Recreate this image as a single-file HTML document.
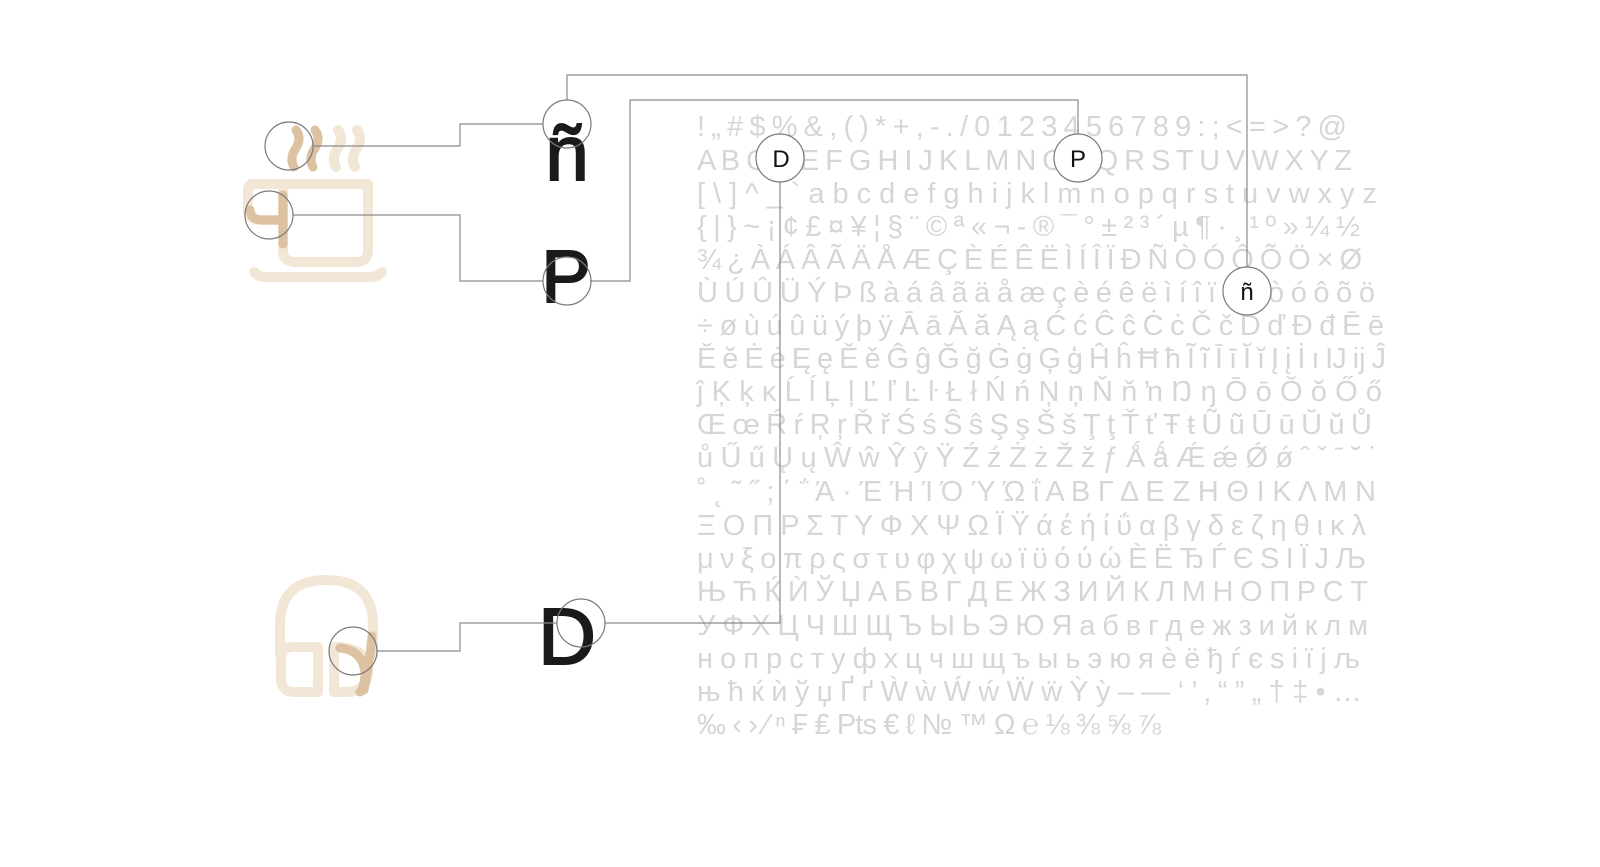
<!DOCTYPE html>
<html><head><meta charset="utf-8"><style>
html,body{margin:0;padding:0;background:#fff;width:1600px;height:867px;overflow:hidden}
svg{display:block}
</style></head><body>
<svg width="1600" height="867" viewBox="0 0 1600 867" xmlns="http://www.w3.org/2000/svg">
<g font-family="Liberation Sans, DejaVu Sans, sans-serif" font-size="29" fill="#d6d6d6">
<text x="697" y="136" textLength="650" lengthAdjust="spacing">! „ # $ % &amp; , ( ) * + , - . / 0 1 2 3 4 5 6 7 8 9 : ; &lt; = &gt; ? @</text>
<text x="697" y="170" textLength="655" lengthAdjust="spacing">A B C D E F G H I J K L M N O P Q R S T U V W X Y Z</text>
<text x="697" y="203" textLength="680" lengthAdjust="spacing">[ \ ] ^ _ ` a b c d e f g h i j k l m n o p q r s t u v w x y z</text>
<text x="697" y="236" textLength="663" lengthAdjust="spacing">{ | } ~ ¡ ¢ £ ¤ ¥ ¦ § ¨ © ª « ¬ - ® ¯ ° ± ² ³ ´ µ ¶ · ¸ ¹ º » ¼ ½</text>
<text x="697" y="269" textLength="665" lengthAdjust="spacing">¾ ¿ À Á Â Ã Ä Å Æ Ç È É Ê Ë Ì Í Î Ï Ð Ñ Ò Ó Ô Õ Ö × Ø</text>
<text x="697" y="302" textLength="678" lengthAdjust="spacing">Ù Ú Û Ü Ý Þ ß à á â ã ä å æ ç è é ê ë ì í î ï ð ñ ò ó ô õ ö</text>
<text x="697" y="335" textLength="687" lengthAdjust="spacing">÷ ø ù ú û ü ý þ ÿ Ā ā Ă ă Ą ą Ć ć Ĉ ĉ Ċ ċ Č č Ď ď Đ đ Ē ē</text>
<text x="697" y="368" textLength="689" lengthAdjust="spacing">Ĕ ĕ Ė ė Ę ę Ě ě Ĝ ĝ Ğ ğ Ġ ġ Ģ ģ Ĥ ĥ Ħ ħ Ĩ ĩ Ī ī Ĭ ĭ Į į İ ı Ĳ ĳ Ĵ</text>
<text x="697" y="401" textLength="685" lengthAdjust="spacing">ĵ Ķ ķ ĸ Ĺ ĺ Ļ ļ Ľ ľ Ŀ ŀ Ł ł Ń ń Ņ ņ Ň ň ŉ Ŋ ŋ Ō ō Ŏ ŏ Ő ő</text>
<text x="697" y="434" textLength="675" lengthAdjust="spacing">Œ œ Ŕ ŕ Ŗ ŗ Ř ř Ś ś Ŝ ŝ Ş ş Š š Ţ ţ Ť ť Ŧ ŧ Ũ ũ Ū ū Ŭ ŭ Ů</text>
<text x="697" y="467" textLength="681" lengthAdjust="spacing">ů Ű ű Ų ų Ŵ ŵ Ŷ ŷ Ÿ Ź ź Ż ż Ž ž ƒ Ǻ ǻ Ǽ ǽ Ǿ ǿ ˆ ˇ ˉ ˘ ˙</text>
<text x="697" y="501" textLength="679" lengthAdjust="spacing">˚ ˛ ˜ ˝ ; ΄ ΅ Ά · Έ Ή Ί Ό Ύ Ώ ΐ Α Β Γ Δ Ε Ζ Η Θ Ι Κ Λ Μ Ν</text>
<text x="697" y="535" textLength="669" lengthAdjust="spacing">Ξ Ο Π Ρ Σ Τ Υ Φ Χ Ψ Ω Ϊ Ϋ ά έ ή ί ΰ α β γ δ ε ζ η θ ι κ λ</text>
<text x="697" y="568" textLength="669" lengthAdjust="spacing">μ ν ξ ο π ρ ς σ τ υ φ χ ψ ω ϊ ϋ ό ύ ώ Ѐ Ё Ђ Ѓ Є Ѕ І Ї Ј Љ</text>
<text x="697" y="601" textLength="671" lengthAdjust="spacing">Њ Ћ Ќ Ѝ Ў Џ А Б В Г Д Е Ж З И Й К Л М Н О П Р С Т</text>
<text x="697" y="635" textLength="671" lengthAdjust="spacing">У Ф Х Ц Ч Ш Щ Ъ Ы Ь Э Ю Я а б в г д е ж з и й к л м</text>
<text x="697" y="668" textLength="663" lengthAdjust="spacing">н о п р с т у ф х ц ч ш щ ъ ы ь э ю я ѐ ё ђ ѓ є ѕ і ї ј љ</text>
<text x="697" y="701" textLength="665" lengthAdjust="spacing">њ ћ ќ ѝ ў џ Ґ ґ Ẁ ẁ Ẃ ẃ Ẅ ẅ Ỳ ỳ – — ‘ ’ ‚ “ ” „ † ‡ • …</text>
<text x="697" y="734" textLength="464" lengthAdjust="spacing">‰ ‹ › ⁄ ⁿ ₣ ₤ Pts € ℓ № ™ Ω ℮ ⅛ ⅜ ⅝ ⅞</text>
</g>

<!-- cup icon -->
<g fill="none" stroke="#f2e6d6" stroke-width="10" stroke-linecap="round" stroke-linejoin="round">
<path d="M283 184 V250 Q283 262 296 262 H356 Q368 262 368 250 V184 H252 Q248 184 248 192 V212 Q250 220 262 220 H283"/>
<path d="M254 272 Q258 277 266 277 H370 Q378 277 382 272"/>
<path d="M338 130 Q344 138 338 148 Q331 158 336 167"/>
<path d="M357 130 Q363 138 357 148 Q350 158 355 167"/>
</g>
<g fill="none" stroke="#dcc2a0" stroke-width="9" stroke-linecap="round">
<path d="M296 130 Q302 138 296 148 Q289 158 294 167"/>
<path d="M315 130 Q321 138 315 148 Q308 158 313 167"/>
<path d="M250 210 Q251 220 262 220 H283"/>
<path d="M283 195 V244"/>
</g>
<!-- headphones -->
<g fill="none" stroke="#f2e6d6" stroke-width="10" stroke-linecap="round" stroke-linejoin="round">
<path d="M280 655 V625 Q280 580 326 580 Q373 580 373 625 V655"/>
<path d="M318 647 H292 Q281 647 281 662 V678 Q281 692 294 692 H318 Z"/>
<path d="M334 647 Q368 647 368 670 Q368 692 345 692 H334 Z"/>
</g>
<path d="M340 648 Q362 650 365 672 Q365 686 360 692 M372 636 Q370 660 364 690" fill="none" stroke="#dcc2a0" stroke-width="9" stroke-linecap="round"/>

<g font-family="Liberation Sans, sans-serif" fill="#1a1a1a" stroke="#1a1a1a" stroke-width="2" text-anchor="middle">
<text x="567" y="180" font-size="78">ñ</text>
<text x="566" y="302" font-size="74">P</text>
<text x="567" y="664" font-size="80">D</text>
</g>

<g fill="none" stroke="#8a8a8a" stroke-width="1.2">
<path d="M567 100 V75 H1247 V267"/>
<path d="M590 281 H630 V100 H1078 V134"/>
<path d="M605 623 H780 V182"/>
<path d="M313 146 H460 V124 H543"/>
<path d="M293 215 H460 V281 H543"/>
<path d="M377 651 H460 V623 H557"/>
</g>
<g fill="none" stroke="#7a7a7a" stroke-width="1.2">
<circle cx="567" cy="124" r="24"/>
<circle cx="567" cy="281" r="24"/>
<circle cx="581" cy="623" r="24"/>
<circle cx="289" cy="146" r="24"/>
<circle cx="269" cy="215" r="24"/>
<circle cx="353" cy="651" r="24"/>
</g>
<g stroke="#7a7a7a" stroke-width="1.2" fill="#fff">
<circle cx="780" cy="158" r="24"/>
<circle cx="1078" cy="158" r="24"/>
<circle cx="1247" cy="291" r="24"/>
</g>
<g font-family="Liberation Sans, sans-serif" fill="#111" font-size="24" text-anchor="middle">
<text x="781" y="167">D</text>
<text x="1078" y="167">P</text>
<text x="1247" y="300">ñ</text>
</g>
</svg>
</body></html>
